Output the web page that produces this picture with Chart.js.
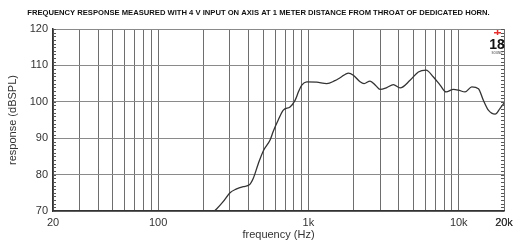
<!DOCTYPE html>
<html>
<head>
<meta charset="utf-8">
<script src="https://cdn.jsdelivr.net/npm/chart.js@4/dist/chart.umd.min.js"></script>
<style>
  html, body { margin: 0; padding: 0; background: #fff; }
  #wrap { width: 515px; height: 243px; }
</style>
</head>
<body>
<div id="wrap"><canvas id="c" width="515" height="243"></canvas></div>
<script>
const titleText = "FREQUENCY RESPONSE MEASURED WITH 4 V INPUT ON AXIS AT 1 METER DISTANCE FROM THROAT OF DEDICATED HORN.";
const xTitle = "frequency (Hz)";
const yTitle = "response (dBSPL)";

const freqs = [220, 240, 270, 301, 330, 369, 405, 430, 464, 501, 556, 585, 630, 681, 755, 815, 860, 903, 975,
  1136, 1324, 1500, 1624, 1844, 1990, 2206, 2346, 2570, 2800, 2998, 3320, 3674, 4072, 4745, 5387, 6064,
  6785, 7515, 8240, 9210, 9950, 11020, 12220, 13520, 14580, 15740, 17460, 18840, 20000];
const spl = [69.0, 70.2, 72.5, 75.0, 76.0, 76.7, 77.2, 79.0, 83.0, 86.5, 89.5, 92.0, 95.0, 97.7, 98.6, 100.4, 102.8, 104.6, 105.5,
  105.4, 105.0, 105.8, 106.6, 107.9, 107.3, 105.5, 105.0, 105.7, 104.5, 103.4, 103.9, 104.7, 103.8, 105.9, 108.2, 108.7,
  106.8, 104.6, 102.7, 103.4, 103.2, 102.7, 104.1, 103.6, 100.4, 97.7, 96.6, 98.2, 99.6];

const xGridTicks = [];
[10, 100, 1000, 10000].forEach(d => { for (let m = 1; m <= 9; m++) { const v = d * m; if (v >= 20 && v <= 20000) xGridTicks.push(v); } });
xGridTicks.push(20000);
const xLabels = {20: "20", 100: "100", 1000: "1k", 10000: "10k", 20000: "20k"};
const yMin = 70, yMax = 120, yStep = 10;

const extras = {
  id: 'extras',
  afterDraw(chart) {
    const ctx = chart.ctx;
    const ys = chart.scales.y, xs = chart.scales.x;
    const L = chart.chartArea.left, R = chart.chartArea.right;
    ctx.save();
    // minor ticks
    ctx.strokeStyle = '#555';
    ctx.lineWidth = 1;
    for (let v = yMin; v <= yMax; v++) {
      const y = Math.round(ys.getPixelForValue(v)) + 0.5;
      ctx.beginPath();
      ctx.moveTo(L, y); ctx.lineTo(L + 3, y);
      ctx.moveTo(R - 3, y); ctx.lineTo(R, y);
      ctx.stroke();
    }
    // title
    let size = 9;
    ctx.font = `bold ${size}px "Liberation Sans", Arial, sans-serif`;
    const w = ctx.measureText(titleText).width;
    size = size * 463 / w;
    ctx.font = `bold ${size}px "Liberation Sans", Arial, sans-serif`;
    ctx.fillStyle = '#111';
    ctx.textAlign = 'center';
    ctx.textBaseline = 'middle';
    ctx.fillText(titleText, 258.5, 12.5);
    // logo
    ctx.fillStyle = '#e53030';
    ctx.fillRect(494, 32, 7, 1.5);
    ctx.fillRect(496.8, 30, 1.5, 5);
    ctx.fillStyle = '#111';
    ctx.font = 'bold 14px "Liberation Sans Narrow", "Liberation Sans", sans-serif';
    ctx.textAlign = 'center';
    ctx.textBaseline = 'alphabetic';
    ctx.fillText('18', 497, 49);
    ctx.fillStyle = '#777';
    ctx.font = 'bold 3px "Liberation Sans", sans-serif';
    ctx.fillText('SOUND', 497, 53.5);
    ctx.restore();
  }
};

new Chart(document.getElementById('c'), {
  type: 'line',
  data: {
    datasets: [{
      data: freqs.map((f, i) => ({x: f, y: spl[i]})),
      borderColor: '#333',
      borderWidth: 1.3,
      pointRadius: 0,
      tension: 0.4,
      cubicInterpolationMode: 'monotone',
      fill: false
    }]
  },
  options: {
    responsive: false,
    animation: false,
    events: [],
    layout: { padding: { top: 29, right: 11, left: 0, bottom: 0 } },
    plugins: { legend: { display: false }, tooltip: { enabled: false }, title: { display: false } },
    scales: {
      x: {
        type: 'logarithmic',
        min: 20, max: 20000,
        afterBuildTicks(scale) { scale.ticks = xGridTicks.map(v => ({value: v})); },
        afterFit(scale) { scale.height = 32; scale.paddingLeft = 0; scale.paddingRight = 0; },
        ticks: {
          autoSkip: false, maxRotation: 0, minRotation: 0, padding: 5,
          color: '#333',
          font: { family: '"Liberation Sans", Arial, sans-serif', size: 11 },
          callback: (v) => xLabels[v] || ''
        },
        grid: { color: '#6e6e6e', lineWidth: 1, drawTicks: false },
        border: { color: '#333', width: 1.5 },
        title: { display: true, text: xTitle, color: '#333', padding: { top: 0, bottom: 1 },
          font: { family: '"Liberation Sans", Arial, sans-serif', size: 11 } }
      },
      y: {
        type: 'linear',
        min: yMin, max: yMax,
        afterFit(scale) { scale.width = 53; },
        ticks: {
          stepSize: yStep, padding: 5, color: '#333',
          font: { family: '"Liberation Sans", Arial, sans-serif', size: 11 }
        },
        grid: { color: '#8a8a8a', lineWidth: 1, drawTicks: false },
        border: { color: '#333', width: 1.5 },
        title: { display: true, text: yTitle, color: '#333', padding: { top: 6, bottom: 0 },
          font: { family: '"Liberation Sans", Arial, sans-serif', size: 11 } }
      }
    }
  },
  plugins: [extras]
});
</script>
</body>
</html>
